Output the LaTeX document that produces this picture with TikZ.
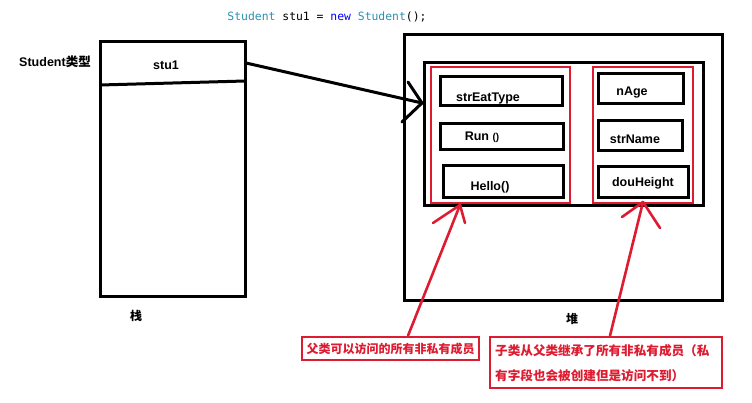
\documentclass[tikz,border=0pt]{standalone}
\usepackage{fontspec}
\setmainfont{Liberation Sans}
\setmonofont{DejaVu Sans Mono}
\newfontfamily\cjk{Noto Sans CJK SC}
\usetikzlibrary{calc}
\definecolor{myred}{RGB}{222,28,49}
\definecolor{vsteal}{RGB}{43,145,175}
\definecolor{vsblue}{RGB}{0,0,255}
\begin{document}
\begin{tikzpicture}[x=1pt,y=-1pt,
 blk/.style={draw=black,line width=3pt,inner sep=0pt,outer sep=0pt},
 redb/.style={draw=myred,line width=2.6pt,inner sep=0pt,outer sep=0pt},
 lbl/.style={font=\fontsize{12.5}{14}\selectfont\bfseries,inner sep=0pt},
 cjklbl/.style={font=\cjk\fontsize{12}{14}\selectfont\bfseries,inner sep=0pt},
 calltext/.style={font=\cjk\fontsize{12.6}{15}\selectfont\bfseries,text=myred,inner sep=0pt},
 conn/.style={line width=3pt,line cap=round},
 rconn/.style={draw=myred,line width=2.6pt,line cap=round},
]
\fill[white] (0,0) rectangle (752,402);
\useasboundingbox (0,0) rectangle (752,402);

\node[font=\ttfamily\fontsize{11.4}{13}\selectfont,inner sep=0pt] (title) at (327,17) {\textcolor{vsteal}{Student} stu1 = \textcolor{vsblue}{new} \textcolor{vsteal}{Student}();};

% stack
\node[blk,minimum width=145,minimum height=255] (stack) at (172.5,168.5) {};
\draw[line width=3pt] ($(stack.north west)+(0,44)$) -- ($(stack.north east)+(0,40)$);
\node[lbl] (stu1) at (166,65) {stu1};
\node[lbl] (stype) at (55,62) {Student{\cjk 类型}};
\node[cjklbl] (zhan) at (136,316) {栈};

% heap
\node[blk,minimum width=318,minimum height=266] (heap) at (563,167) {};
\node[blk,minimum width=279,minimum height=143] (obj) at (563.5,133.5) {};
\node[redb,minimum width=139,minimum height=136] (redL) at (500.5,135) {};
\node[redb,minimum width=100,minimum height=136] (redR) at (643,135) {};

\node[blk,minimum width=122,minimum height=29] (f1) at (501,90.5) {};
\node[lbl] (f1t) at (488,98) {strEatType};
\node[blk,minimum width=123,minimum height=26] (f2) at (501.5,136) {};
\node[lbl] (f2t) at (482,137) {Run {\fontsize{10}{11}\selectfont()}};
\node[blk,minimum width=120,minimum height=32] (f3) at (503,181) {};
\node[lbl] (f3t) at (490,187) {Hello()};

\node[blk,minimum width=85,minimum height=30] (g1) at (640.5,88) {};
\node[lbl] (g1t) at (632,93) {nAge};
\node[blk,minimum width=84,minimum height=30] (g2) at (640,135) {};
\node[lbl] (g2t) at (635,139) {strName};
\node[blk,minimum width=90,minimum height=31] (g3) at (643,181.5) {};
\node[lbl] (g3t) at (643,183) {douHeight};

\node[cjklbl] (dui) at (572,319) {堆};

% reference arrow
\coordinate (tip) at (422,103);
\draw[conn] ($(stack.north east)+(1,22)$) -- (tip);
\draw[conn] (tip) -- ++(-14,-21);
\draw[conn] (tip) -- ++(-20,19);

% callouts
\node[draw=myred,line width=2.6pt,fill=white,minimum width=177,minimum height=23,inner sep=0pt] (c1) at (390.5,348.5) {};
\node[calltext,font=\cjk\fontsize{12}{14}\selectfont\bfseries] (c1t) at (390.5,349) {父类可以访问的所有非私有成员};
\node[draw=myred,line width=2.6pt,fill=white,minimum width=232,minimum height=51,inner sep=0pt] (c2) at (606,362.5) {};
\node[calltext,anchor=west] (c2a) at (495,351) {子类从父类继承了所有非私有成员（私};
\node[calltext,anchor=west] (c2b) at (495,376) {有字段也会被创建但是访问不到）};

\coordinate (rt1) at (460,205);
\draw[rconn] ($(c1.north)+(17.5,0)$) -- (rt1);
\draw[rconn] (rt1) -- ++(-27,18);
\draw[rconn] (rt1) -- ++(5,18);
\coordinate (rt2) at (643,202);
\draw[rconn] ($(c2.north)+(4,0)$) -- (rt2);
\draw[rconn] (rt2) -- ++(-21,15);
\draw[rconn] (rt2) -- ++(17,26);
\end{tikzpicture}
\end{document}
